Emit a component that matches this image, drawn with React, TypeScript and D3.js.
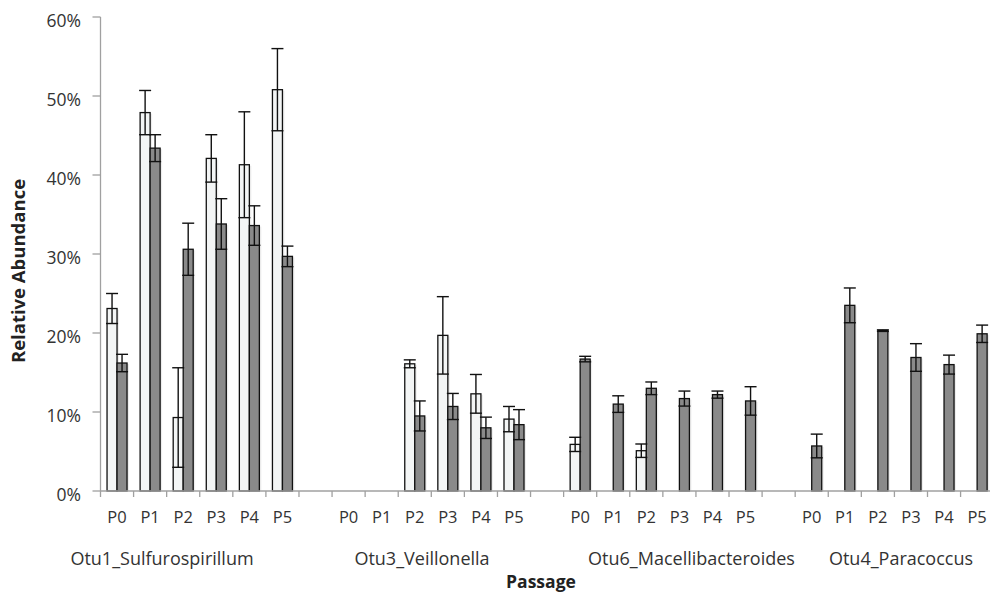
import React from "react";
import * as d3 from "d3";

const groups = ["Otu1_Sulfurospirillum", "Otu3_Veillonella", "Otu6_Macellibacteroides", "Otu4_Paracoccus"];
const passages = ["P0", "P1", "P2", "P3", "P4", "P5"];
const yTicks = [0, 10, 20, 30, 40, 50, 60];

// light series (percent)
const lightMean: (number | null)[][] = [
  [23.1, 47.9, 9.3, 42.1, 41.3, 50.8],
  [null, null, 16.1, 19.7, 12.3, 9.1],
  [5.9, null, 5.1, null, null, null],
  [null, null, null, null, null, null],
];
const lightErr: (number | null)[][] = [
  [1.9, 2.8, 6.3, 3.0, 6.7, 5.2],
  [null, null, 0.5, 4.9, 2.45, 1.6],
  [0.9, null, 0.85, null, null, null],
  [null, null, null, null, null, null],
];
// dark series (percent)
const darkMean: (number | null)[][] = [
  [16.2, 43.4, 30.6, 33.8, 33.6, 29.7],
  [null, null, 9.5, 10.7, 8.0, 8.4],
  [16.7, 11.0, 13.0, 11.7, 12.2, 11.4],
  [5.7, 23.5, 20.3, 16.9, 16.0, 19.9],
];
const darkErr: (number | null)[][] = [
  [1.1, 1.7, 3.3, 3.2, 2.5, 1.3],
  [null, null, 1.9, 1.65, 1.35, 1.9],
  [0.35, 1.05, 0.8, 0.95, 0.45, 1.8],
  [1.5, 2.2, 0.1, 1.75, 1.2, 1.1],
];

const W = 990;
const H = 593;
const FONT = "'Open Sans', 'DejaVu Sans', sans-serif";
const TEXT = "#333";
const AXIS = "#a0a0a0";
const slotsPerGroup = passages.length + 1;
const nSlots = groups.length * slotsPerGroup - 1;
const slotW = 33.08;
const x0 = 100.5;
const barW = 10;
const capW = 12;
// manual label centres for group names (as in the original figure)
const groupLabelX = [162, 422, 691.5, 901];

export default function App() {
  const x = d3.scaleBand<number>().domain(d3.range(nSlots)).range([x0, x0 + nSlots * slotW]).paddingInner(0).paddingOuter(0);
  const y = d3.scaleLinear().domain([0, 60]).range([491, 17]);
  const y0 = y(0);

  type Bar = { key: string; xl: number; mean: number; err: number | null; fill: string };
  const bars: Bar[] = [];
  groups.forEach((g, gi) => {
    passages.forEach((p, pi) => {
      const slot = gi * slotsPerGroup + pi;
      const c = (x(slot) as number) + x.bandwidth() / 2;
      const lm = lightMean[gi][pi];
      if (lm != null) bars.push({ key: `l${gi}${pi}`, xl: c - barW, mean: lm, err: lightErr[gi][pi], fill: "#f3f5f5" });
      const dm = darkMean[gi][pi];
      if (dm != null) bars.push({ key: `d${gi}${pi}`, xl: c, mean: dm, err: darkErr[gi][pi], fill: "#8a8a8a" });
    });
  });

  const boundaries = d3.range(nSlots + 1).map((i) => x0 + i * x.step());

  return (
    <svg width={W} height={H} style={{ position: "absolute", left: 0, top: 0, background: "#fff" }}>
      {/* y axis */}
      <line x1={x0} x2={x0} y1={y(60)} y2={y0} stroke={AXIS} strokeWidth={1.3} />
      {yTicks.map((t) => (
        <g key={t}>
          <line x1={x0 - 8} x2={x0} y1={y(t)} y2={y(t)} stroke={AXIS} strokeWidth={1.3} />
          <text x={81} y={y(t) + 10} textAnchor="end" fontFamily={FONT} fontSize={17.5} fill={TEXT}>
            {t}%
          </text>
        </g>
      ))}
      {/* bars */}
      {bars.map((b) => (
        <g key={b.key}>
          <rect x={b.xl + 2} y={y(b.mean) + 1} width={barW} height={y0 - y(b.mean) - 1} fill="#000" opacity={0.07} />
          <rect x={b.xl} y={y(b.mean)} width={barW} height={y0 - y(b.mean)} fill={b.fill} stroke="#111" strokeWidth={1.3} />
        </g>
      ))}
      {/* error bars */}
      {bars
        .filter((b) => b.err != null)
        .map((b) => {
          const cx = b.xl + barW / 2;
          const top = y(b.mean + (b.err as number));
          const bot = y(b.mean - (b.err as number));
          return (
            <g key={"e" + b.key} stroke="#111" strokeWidth={1.4}>
              <line x1={cx} x2={cx} y1={top} y2={bot} />
              <line x1={cx - capW / 2} x2={cx + capW / 2} y1={top} y2={top} />
              <line x1={cx - capW / 2} x2={cx + capW / 2} y1={bot} y2={bot} />
            </g>
          );
        })}
      {/* x axis */}
      <line x1={x0} x2={W} y1={y0} y2={y0} stroke={AXIS} strokeWidth={1.3} />
      {boundaries.map((bx, i) => (
        <line key={i} x1={bx} x2={bx} y1={y0} y2={y0 + 6} stroke={AXIS} strokeWidth={1.3} />
      ))}
      {groups.map((g, gi) =>
        passages.map((p, pi) => {
          const slot = gi * slotsPerGroup + pi;
          return (
            <text
              key={g + p}
              x={(x(slot) as number) + x.bandwidth() / 2}
              y={523}
              textAnchor="middle"
              fontFamily={FONT}
              fontSize={16.5}
              fill={TEXT}
            >
              {p}
            </text>
          );
        })
      )}
      {groups.map((g, gi) => (
        <text key={g} x={groupLabelX[gi]} y={565} textAnchor="middle" fontFamily={FONT} fontSize={18} fill={TEXT}>
          {g}
        </text>
      ))}
      <text x={541} y={588} textAnchor="middle" fontFamily={FONT} fontSize={17.5} fontWeight="bold" fill="#222">
        Passage
      </text>
      <text
        transform={`translate(25,271) rotate(-90)`}
        textAnchor="middle"
        fontFamily={FONT}
        fontSize={18.5}
        fontWeight="bold"
        fill="#222"
      >
        Relative Abundance
      </text>
    </svg>
  );
}
